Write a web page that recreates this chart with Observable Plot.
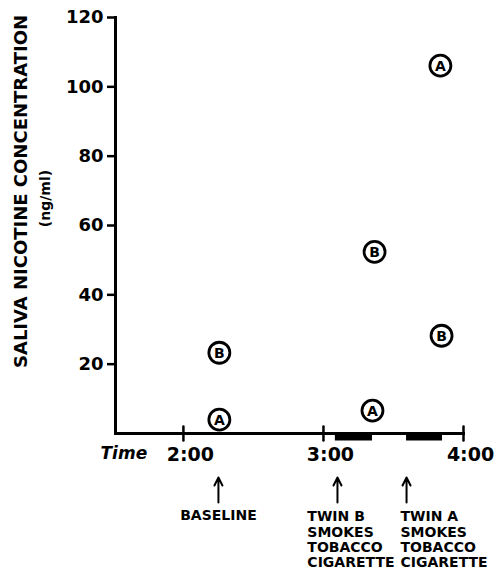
<!DOCTYPE html>
<html><head><meta charset="utf-8">
<script src="https://cdn.jsdelivr.net/npm/d3@7"></script>
<script src="https://cdn.jsdelivr.net/npm/@observablehq/plot@0.6"></script>
<style>body{margin:0;background:#fff} svg{display:block}</style>
</head><body><div id="chart"></div>
<script>
// Data (time in minutes after midnight)
const twins    = ["A", "B", "A", "B", "A", "B"];
const times    = [135.4, 135.4, 201, 201.9, 230.1, 230.6];
const nicotine = [4.0, 23.3, 6.6, 52.4, 106.1, 28.2];

const smokeStart = [185.1, 215.6];
const smokeEnd   = [201, 231];

const baselineTime  = [135];
const baselineLabel = ["BASELINE"];
const smokeEventTimes  = [186, 215.6];
const smokeLabelTimes  = [173.1, 213];
const smokeLabels = ["TWIN B\nSMOKES\nTOBACCO\nCIGARETTE", "TWIN A\nSMOKES\nTOBACCO\nCIGARETTE"];

const yTicks = [20, 40, 60, 80, 100, 120];
const xTicks = [120, 180, 240];
const xTickLabels = ["2:00", "3:00", "4:00"];
const xDomain = [90.9, 240];
const yDomain = [0, 120];

const points = twins.map((t, i) => ({twin: t, t: times[i], v: nicotine[i]}));
const smoke = smokeStart.map((s, i) => ({start: s, end: smokeEnd[i]}));
const baselineEv = baselineTime.map((t, i) => ({t, label: baselineLabel[i]}));
const smokeEv = smokeEventTimes.map((t, i) => ({t, lt: smokeLabelTimes[i], label: smokeLabels[i]}));

const arrowShape = {draw(ctx, l) {
  ctx.moveTo(0, 0); ctx.lineTo(0, -l);
  ctx.moveTo(-4, -l + 8); ctx.lineTo(0, -l); ctx.lineTo(4, -l + 8);
}};
const lineShape = {draw(ctx, l) { ctx.moveTo(0, 0); ctx.lineTo(0, -l); }};

const chart = Plot.plot({
  width: 497,
  height: 570,
  marginLeft: 115,
  marginRight: 34,
  marginTop: 17,
  marginBottom: 137,
  style: {fontFamily: "'DejaVu Sans', sans-serif", color: "black", background: "white"},
  x: {domain: xDomain},
  y: {domain: yDomain},
  marks: [
    Plot.frame({anchor: "left", strokeWidth: 3}),
    Plot.frame({anchor: "bottom", strokeWidth: 3}),
    Plot.axisY({ticks: yTicks, tickSize: 8, tickPadding: 4, strokeWidth: 2.5,
      fontSize: 18, fontWeight: "bold", label: null}),
    Plot.axisX({ticks: xTicks, tickSize: 0, tickPadding: 14, dx: 7,
      tickFormat: d => xTickLabels[xTicks.indexOf(d)],
      fontSize: 19, fontWeight: "bold", label: null}),
    Plot.vector(xTicks, {x: d => d, frameAnchor: "bottom", anchor: "start", dy: 7,
      length: 14, shape: lineShape, strokeWidth: 2.5}),
    Plot.ruleY(smoke, {x1: "start", x2: "end", y: () => 0, dy: 3.5, strokeWidth: 7}),
    Plot.dot(points, {x: "t", y: "v", r: 10.5, stroke: "black", strokeWidth: 2.8, fill: "white"}),
    Plot.text(points, {x: "t", y: "v", text: "twin", fontSize: 14, fontWeight: "bold", dy: 0.5}),
    Plot.text(["SALIVA NICOTINE CONCENTRATION"], {frameAnchor: "left", textAnchor: "middle",
      lineAnchor: "middle", rotate: -90, dx: -94, dy: -34, fontSize: 18, fontWeight: "bold"}),
    Plot.text(["(ng/ml)"], {frameAnchor: "left", textAnchor: "middle", lineAnchor: "middle",
      rotate: -90, dx: -70, dy: -27, fontSize: 14, fontWeight: "bold"}),
    Plot.text(["Time"], {frameAnchor: "bottom-left", textAnchor: "start", lineAnchor: "middle",
      dx: -15, dy: 20.5, fontSize: 17, fontWeight: "bold", fontStyle: "italic"}),
    Plot.vector(baselineEv, {x: "t", frameAnchor: "bottom", anchor: "start", dy: 69,
      length: 25, shape: arrowShape, strokeWidth: 2}),
    Plot.vector(smokeEv, {x: "t", frameAnchor: "bottom", anchor: "start", dy: 69,
      length: 25, shape: arrowShape, strokeWidth: 2}),
    Plot.text(baselineEv, {x: "t", text: "label", frameAnchor: "bottom", lineAnchor: "top",
      dy: 77, fontSize: 14, fontWeight: "bold"}),
    Plot.text(smokeEv, {x: "lt", text: "label", frameAnchor: "bottom", lineAnchor: "top",
      textAnchor: "start", dy: 77, fontSize: 14, lineHeight: 1.09, fontWeight: "bold"})
  ]
});
document.getElementById("chart").append(chart);
</script>
</body></html>
